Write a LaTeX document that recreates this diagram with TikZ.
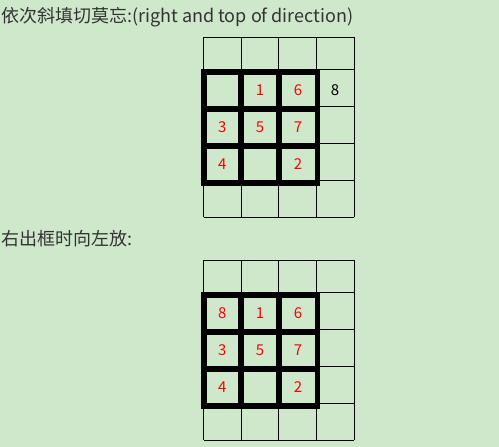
\documentclass[tikz,border=0pt]{standalone}
\usepackage{fontspec}
\setmainfont{Noto Sans CJK SC}
\usepackage{tikz}
\usetikzlibrary{positioning}
\definecolor{eyegreen}{HTML}{CFE8CC}
\definecolor{captiongray}{HTML}{333333}
\definecolor{digitred}{HTML}{FF0000}
\tikzset{
  caption/.style={anchor=base west, inner sep=0pt, text=captiongray, font=\fontsize{18}{22}\selectfont},
  digit/.style={inner sep=0pt, text=digitred, font=\fontsize{15}{18}\selectfont},
  thingrid/.style={draw=black, line width=1pt},
  thickgrid/.style={draw=black, line width=5.5pt},
}
% one 4x5 board: thin cells plus the thick 3x3 square
\newcommand{\drawboard}{%
  \foreach \x in {203.5,241.2,278.9,316.6,354.3}
    \draw[thingrid] (\x,0) -- (\x,180);
  \foreach \y in {0,32,69.3,106,143.3,180}
    \draw[thingrid] (203.5,\y) -- (354.3,\y);
  \foreach \x in {203.75,241,279,317.25}
    \draw[thickgrid] (\x,32) -- (\x,148.4);
  \foreach \y in {34.75,71.5,108.5,145.65}
    \draw[thickgrid] (201,\y) -- (320,\y);
}

\begin{document}
\begin{tikzpicture}[x=1pt, y=-1pt]
    \fill[eyegreen] (0,0) rectangle (499,447);
    \useasboundingbox (0,0) rectangle (499,447);

    % first board
    \node[caption] (capone) at (1,23) {依次斜填切莫忘:(right and top of direction)};
    \begin{scope}[yshift=-37.3pt]
        \drawboard
    \end{scope}
    \node[digit] (up-one)   at (260,90.4)  {1};
    \node[digit] (up-six)   at (298,90.4)  {6};
    \node[digit, text=black] (up-eight) at (335,90.4) {8};
    \node[digit] (up-three) at (222.4,127.3) {3};
    \node[digit] (up-five)  at (260,127.3) {5};
    \node[digit] (up-seven) at (298,127.3) {7};
    \node[digit] (up-four)  at (222.4,164.4) {4};
    \node[digit] (up-two)   at (298,164.4) {2};

    % second board
    \node[caption] (captwo) at (1,245) {右出框时向左放:};
    \begin{scope}[yshift=-260.3pt]
        \drawboard
    \end{scope}
    \node[digit] (low-eight) at (222.4,313.4) {8};
    \node[digit] (low-one)   at (260,313.4) {1};
    \node[digit] (low-six)   at (298,313.4) {6};
    \node[digit] (low-three) at (222.4,350.3) {3};
    \node[digit] (low-five)  at (260,350.3) {5};
    \node[digit] (low-seven) at (298,350.3) {7};
    \node[digit] (low-four)  at (222.4,387.4) {4};
    \node[digit] (low-two)   at (298,387.4) {2};
\end{tikzpicture}
\end{document}
